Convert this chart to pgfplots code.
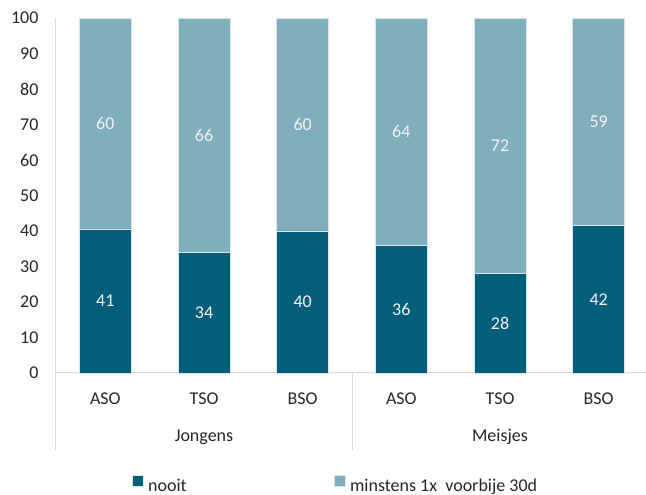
\documentclass[border=0pt]{standalone}
\usepackage{fontspec}
\setmainfont{Carlito}
\usepackage{pgfplots}
\usepackage{pgfplotstable}
\pgfplotsset{compat=1.18}

\definecolor{dark}{HTML}{035E7A}
\definecolor{light}{HTML}{80AEBD}
\definecolor{txt}{HTML}{262626}
\definecolor{sep}{HTML}{D9D9D9}

% segment heights are the shares of the 100% bar, labels the rounded values
\pgfplotstableread{
x nooit nlab minst mlab
0 40.59 41 59.41 60
1 34.00 34 66.00 66
2 40.00 40 60.00 60
3 36.00 36 64.00 64
4 28.00 28 72.00 72
5 41.58 42 58.42 59
}\data

\pgfplotsset{frame/.style={
    at={(56pt,122pt)}, anchor=south west,
    scale only axis,
    width=592pt, height=355pt,
    xmin=-0.5, xmax=5.5,
    ymin=0, ymax=100,
    clip=false,
    font=\fontsize{18}{22}\selectfont,
    /pgf/number format/assume math mode=true,
}}

\begin{document}
\begin{tikzpicture}
\useasboundingbox (0,0) rectangle (646pt,495pt);
\begin{axis}[
    frame,
    ybar stacked, bar width=52pt,
    axis x line*=bottom, axis y line*=left,
    axis line style={sep, line width=1pt, -},
    major tick length=0pt,
    ytick={0,10,...,100},
    xtick={0,...,5},
    xticklabels={ASO,TSO,BSO,ASO,TSO,BSO},
    ticklabel style={text=txt},
    yticklabel style={xshift=-14pt},
    xticklabel style={yshift=-16pt},
    legend columns=2,
    legend style={draw=none, fill=none, text=txt,
        at={(rel axis cs:0.472,0)}, anchor=center, yshift=-112pt,
        /tikz/every even column/.append style={column sep=145pt}},
    legend image code/.code={\fill[#1] (0pt,-0.5pt) rectangle (11pt,10.5pt);},
]
\addplot[fill=dark, draw=white!70!light, line width=0.4pt]
    table[x=x, y=nooit] {\data};
\addplot[fill=light, draw=white!70!light, line width=0.4pt]
    table[x=x, y=minst] {\data};
\legend{\hspace{3pt}nooit, \hspace{3pt}minstens 1x\ \ voorbije 30d}

\draw[sep, line width=1pt] (axis cs:-0.5,0) -- ([yshift=-77pt]axis cs:-0.5,0);
\draw[sep, line width=1pt] (axis cs:2.5,0) -- ([yshift=-77pt]axis cs:2.5,0);
\draw[sep, line width=1pt] (axis cs:5.5,0) -- ([yshift=-77pt]axis cs:5.5,0);
\node[text=txt] at ([yshift=-64pt]axis cs:1,0) {Jongens};
\node[text=txt] at ([yshift=-64pt]axis cs:4,0) {Meisjes};
\end{axis}

% value labels, centred in each segment
\begin{axis}[
    frame, hide axis,
    nodes near coords,
    point meta=explicit,
    every node near coord/.append style={anchor=center, text=white!95!black},
]
\addplot[draw=none, mark=none]
    table[x=x, y expr=\thisrow{nooit}/2, meta=nlab] {\data};
\addplot[draw=none, mark=none]
    table[x=x, y expr=\thisrow{nooit}+\thisrow{minst}/2, meta=mlab] {\data};
\end{axis}
\end{tikzpicture}
\end{document}
